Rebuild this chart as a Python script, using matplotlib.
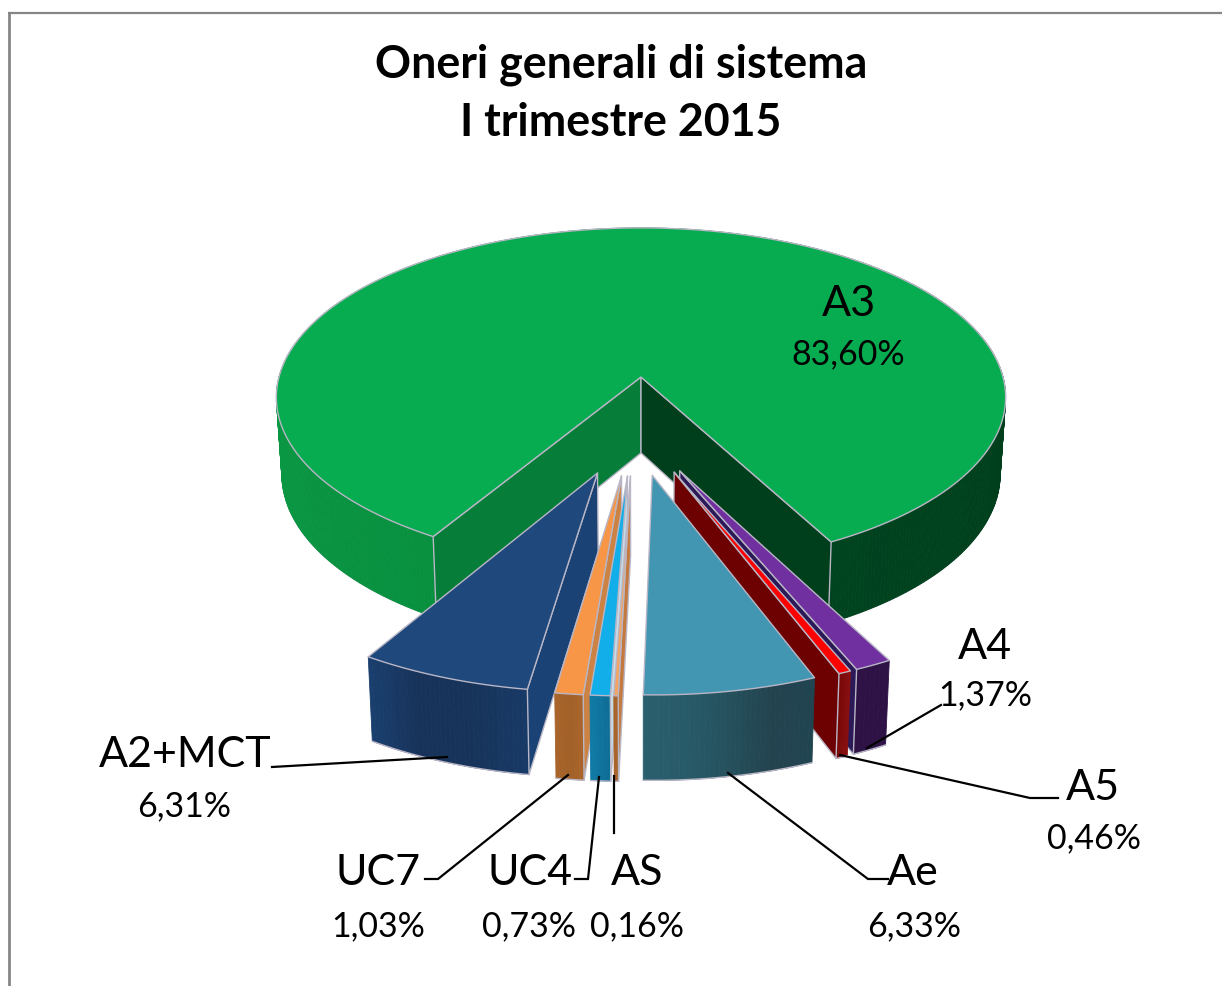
import numpy as np
import matplotlib
matplotlib.use("Agg")
import matplotlib.pyplot as plt
from matplotlib.colors import to_rgb
from matplotlib.patches import Polygon

# ---- data ----
TITLE_LINES = ["Oneri generali di sistema", "I trimestre 2015"]
names = ["A3", "A4", "A5", "Ae", "AS", "UC4", "UC7", "A2+MCT"]
values = [83.60, 1.37, 0.46, 6.33, 0.16, 0.73, 1.03, 6.31]
value_labels = ["83,60%", "1,37%", "0,46%", "6,33%", "0,16%", "0,73%", "1,03%", "6,31%"]

# ---- style ----
top_colors = ["#07ab50", "#7030a0", "#ff0000", "#4296b2", "#f4a460", "#12aeea", "#f79646", "#1f497d"]
wall_stops = [
    ["#08903f", "#0b9c46", "#00602c", "#003d1b", "#00431f"],
    ["#2f1245", "#2f1245"],
    ["#8a1010", "#7a0808"],
    ["#204450", "#23434f", "#24505c", "#285a68", "#2a5f6e"],
    ["#a8642a", "#a8642a"],
    ["#0f6e96", "#0f7aa6"],
    ["#a8642a", "#a06028", "#a8642a"],
    ["#183a66", "#17335a", "#17335a", "#1a3f6e"],
]
face_at_start = ["#067e39", None, None, None, "#c47a3e", "#c6dbe6", "#cc8242", "#1b4274"]
face_at_end = ["#003f1c", "#2c1a58", "#6d0000", None, None, None, None, None]
edge = "#b9b6c6"

CX, CY, RX, RY, PERSP = 641, 377, 362, 167, 0.12
DEPTH, EXPLODE = 76, 0.277
START = -31.0
NUDGE = -0.012
label_pos = {
    "A3": ((849, 304), (848, 354)), "A4": ((985, 647), (985, 695)),
    "A5": ((1093, 788), (1094, 838)), "Ae": ((913, 873), (914, 926)),
    "AS": ((637, 873), (637, 926)), "UC4": ((530, 873), (529, 926)),
    "UC7": ((378, 873), (378, 926)), "A2+MCT": ((185, 755), (184, 806)),
}
leaders = [
    [(272, 767), (447, 757)],
    [(425, 879), (438, 879), (568, 775)],
    [(575, 879), (588, 879), (599, 777)],
    [(614, 833), (614, 776)],
    [(888, 879), (868, 879), (728, 773)],
    [(1058, 798), (1030, 798), (840, 755)],
    [(941, 705), (867, 748)],
]

plt.rcParams["font.family"] = ["Lato", "DejaVu Sans"]
fig = plt.figure(figsize=(12.22, 9.86), dpi=100, facecolor="white")
ax = fig.add_axes([0, 0, 1, 1])
ax.set_xlim(0, 1222)
ax.set_ylim(986, 0)
ax.axis("off")


def project(u, v, down=False):
    u, v = np.asarray(u, float), np.asarray(v, float)
    w = 1 - PERSP * v
    x = RX * u / w
    y = RY * v / w
    if down:
        return CX + x * 0.985, CY + y + DEPTH * (1 + 0.08 * v)
    return CX + x, CY + y


def ramp(stops, f):
    cols = np.array([to_rgb(c) for c in stops])
    p = np.linspace(0, 1, len(cols))
    return tuple(np.interp(f, p, cols[:, i]) for i in range(3))


def poly(pts, fc, ec=None, lw=0.0, z=1):
    ax.add_patch(Polygon(pts, closed=True, facecolor=fc,
                         edgecolor=ec if ec else fc, linewidth=lw, zorder=z, joinstyle="round"))


def draw_slice(i, th1, th2, order):
    mid = np.radians((th1 + th2) / 2)
    mid0 = np.radians(START - 3.6 * values[0] * 100 / sum(values) / 2)
    if i == 0:
        ou, ov = 0.0, 0.0
    else:
        ou = -EXPLODE * np.sin(mid0) + EXPLODE * np.sin(mid) + NUDGE
        ov = -EXPLODE * np.cos(mid0) + EXPLODE * np.cos(mid)
    n = max(6, int(abs(th1 - th2) * 1.5))
    th = np.radians(np.linspace(th1, th2, n + 1))
    u, v = ou + np.sin(th), ov + np.cos(th)
    tx, ty = project(u, v)
    bx, by = project(u, v, down=True)
    ax0, ay0 = project(ou, ov)
    bx0, by0 = project(ou, ov, down=True)
    z = order
    # outer wall, back strips first so the nearer ones lie on top
    for k in sorted(range(n), key=lambda q: v[q]):
        c = ramp(wall_stops[i], k / max(n - 1, 1))
        poly([(tx[k], ty[k]), (tx[k + 1], ty[k + 1]), (bx[k + 1], by[k + 1]), (bx[k], by[k])],
             c, lw=0.6, z=z + 0.1)
    if i == 0:
        for sel in (th < np.radians(-180), th >= np.radians(-180)):
            ax.plot(bx[sel], by[sel], color=edge, lw=0.8, zorder=z + 0.05)
    else:
        ax.plot(bx, by, color=edge, lw=1.0, zorder=z + 0.15)
    # cut faces
    if face_at_start[i]:
        poly([(ax0, ay0), (tx[0], ty[0]), (bx[0], by[0]), (bx0, by0)],
             face_at_start[i], ec=edge, lw=1.0, z=z + 0.2)
    if face_at_end[i]:
        poly([(ax0, ay0), (tx[-1], ty[-1]), (bx[-1], by[-1]), (bx0, by0)],
             face_at_end[i], ec=edge, lw=1.0, z=z + 0.2)
    # top
    pts = [(ax0, ay0)] + list(zip(tx, ty))
    poly(pts, top_colors[i], ec=edge, lw=1.0, z=z + 0.3)


# frame
ax.plot([9, 9], [986, 13], color="#868686", lw=2.0, zorder=0, solid_capstyle="butt")
ax.plot([8, 1222], [13, 13], color="#868686", lw=1.6, zorder=0, solid_capstyle="butt")

# wedges
spans = [3.6 * val * 100 / sum(values) for val in values]
ends = START - np.cumsum(spans)
starts = np.concatenate([[START], ends[:-1]])
draw_order = [0, 7, 6, 5, 4, 1, 2, 3]
for o, i in enumerate(draw_order):
    draw_slice(i, starts[i], ends[i], 2 + o)

# leaders
for pts in leaders:
    xs, ys = zip(*pts)
    ax.plot(xs, ys, color="black", lw=1.6, zorder=30, solid_joinstyle="miter")

# labels
for name, val in zip(names, value_labels):
    (nx, ny), (vx, vy) = label_pos[name]
    ax.text(nx, ny, name, fontsize=31, ha="center", va="center", color="black", zorder=31)
    ax.text(vx, vy, val, fontsize=24.5, ha="center", va="center", color="black", zorder=31)

for line, ty_ in zip(TITLE_LINES, (65, 123)):
    ax.text(621, ty_, line, fontsize=32.2, fontweight="bold", ha="center", va="center",
            color="black", zorder=31)

fig.savefig("out.png", dpi=100)
